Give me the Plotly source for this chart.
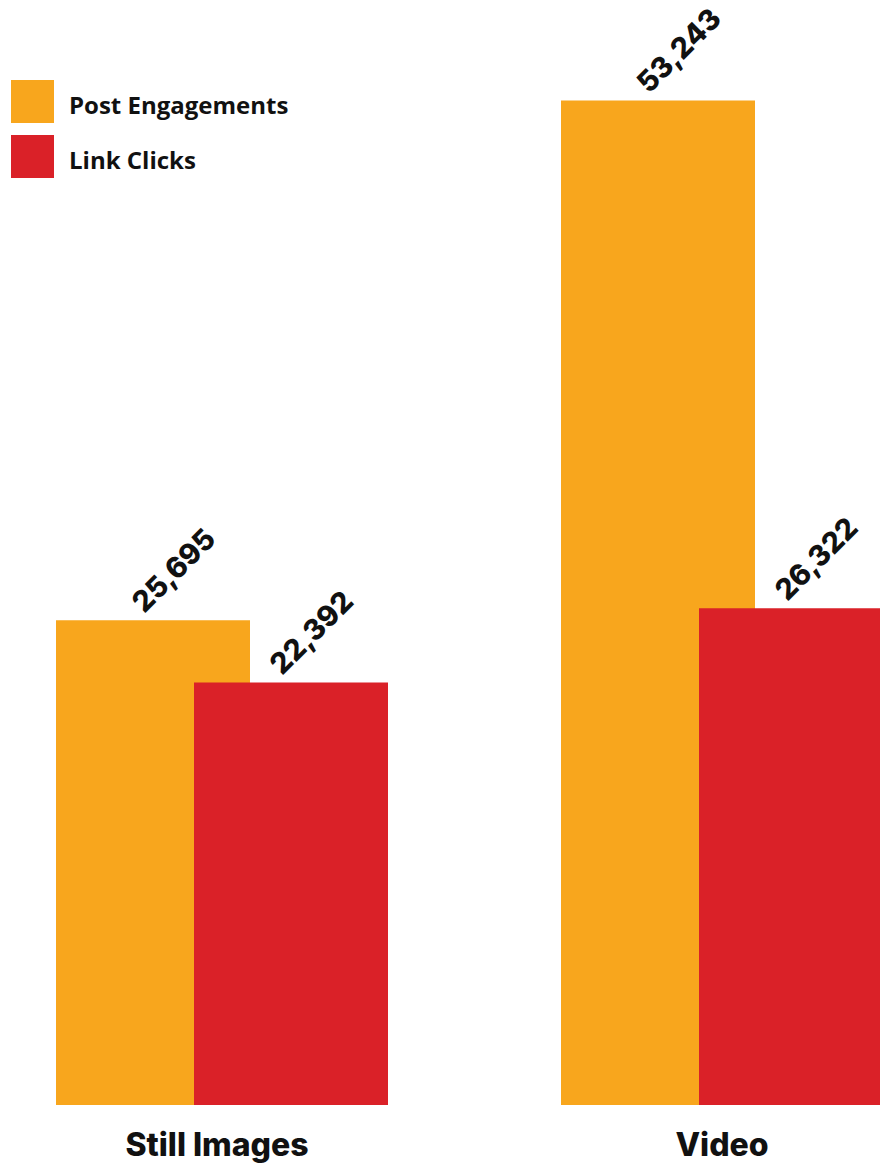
import plotly.graph_objects as go

categories = ["Still Images", "Video"]
post_engagements = [25695, 53243]
link_clicks = [22392, 26322]
series_names = ["Post Engagements", "Link Clicks"]
colors = ["#F8A61D", "#DA2128"]

W, H = 880, 1167
MB = 62
PLOT_H = H - MB
PX_PER_CAT = 505.0
CAT0_PX = 217.0
BAR_W = 194 / PX_PER_CAT
OFFSETS = [(56 - CAT0_PX) / PX_PER_CAT, (194 - CAT0_PX) / PX_PER_CAT]
YMAX = PLOT_H * 53.0

VAL_FONT = dict(family="Inter, DejaVu Sans, sans-serif", size=29, color="#111111", weight=800)

fig = go.Figure()
for name, vals, col, off in zip(series_names, [post_engagements, link_clicks], colors, OFFSETS):
    fig.add_trace(go.Bar(
        x=categories, y=vals, name=name, marker=dict(color=col, line=dict(width=0)),
        width=BAR_W, offset=off, showlegend=False, hoverinfo="x+y",
    ))

annotations = []
for vals, off in zip([post_engagements, link_clicks], OFFSETS):
    for i, v in enumerate(vals):
        annotations.append(dict(
            x=i + off + BAR_W / 2, y=v, xref="x", yref="y",
            text=f"{v:,}", showarrow=False, textangle=-45,
            xanchor="center", yanchor="bottom", xshift=20, yshift=-2,
            font=VAL_FONT,
        ))

# legend drawn manually
leg_y = [80, 135]
for name, col, top in zip(series_names, colors, leg_y):
    fig.add_shape(type="rect", xref="paper", yref="paper",
                  x0=11 / W, x1=54 / W,
                  y0=(PLOT_H - (top + 43)) / PLOT_H, y1=(PLOT_H - top) / PLOT_H,
                  fillcolor=col, line=dict(width=0))
    annotations.append(dict(
        x=67 / W, y=(PLOT_H - (top + 24)) / PLOT_H, xref="paper", yref="paper",
        text=name, showarrow=False, xanchor="left", yanchor="middle",
        font=dict(family="Open Sans, sans-serif", size=24, color="#111111", weight=700),
    ))

fig.update_layout(
    width=W, height=H,
    margin=dict(l=0, r=0, t=0, b=MB, pad=0),
    paper_bgcolor="white", plot_bgcolor="white",
    barmode="overlay",
    annotations=annotations,
    xaxis=dict(
        type="category", categoryorder="array", categoryarray=categories,
        range=[-CAT0_PX / PX_PER_CAT, (W - CAT0_PX) / PX_PER_CAT],
        showgrid=False, zeroline=False, showline=False,
        ticks="outside", ticklen=12, tickcolor="rgba(0,0,0,0)",
        tickfont=dict(family="Inter, DejaVu Sans, sans-serif", size=32, color="#111111", weight=800),
        automargin=False, fixedrange=True,
    ),
    yaxis=dict(range=[0, YMAX], visible=False, showgrid=False, zeroline=False, fixedrange=True),
)
for tr in fig.data:
    tr.cliponaxis = False

fig.write_html("out.html")
